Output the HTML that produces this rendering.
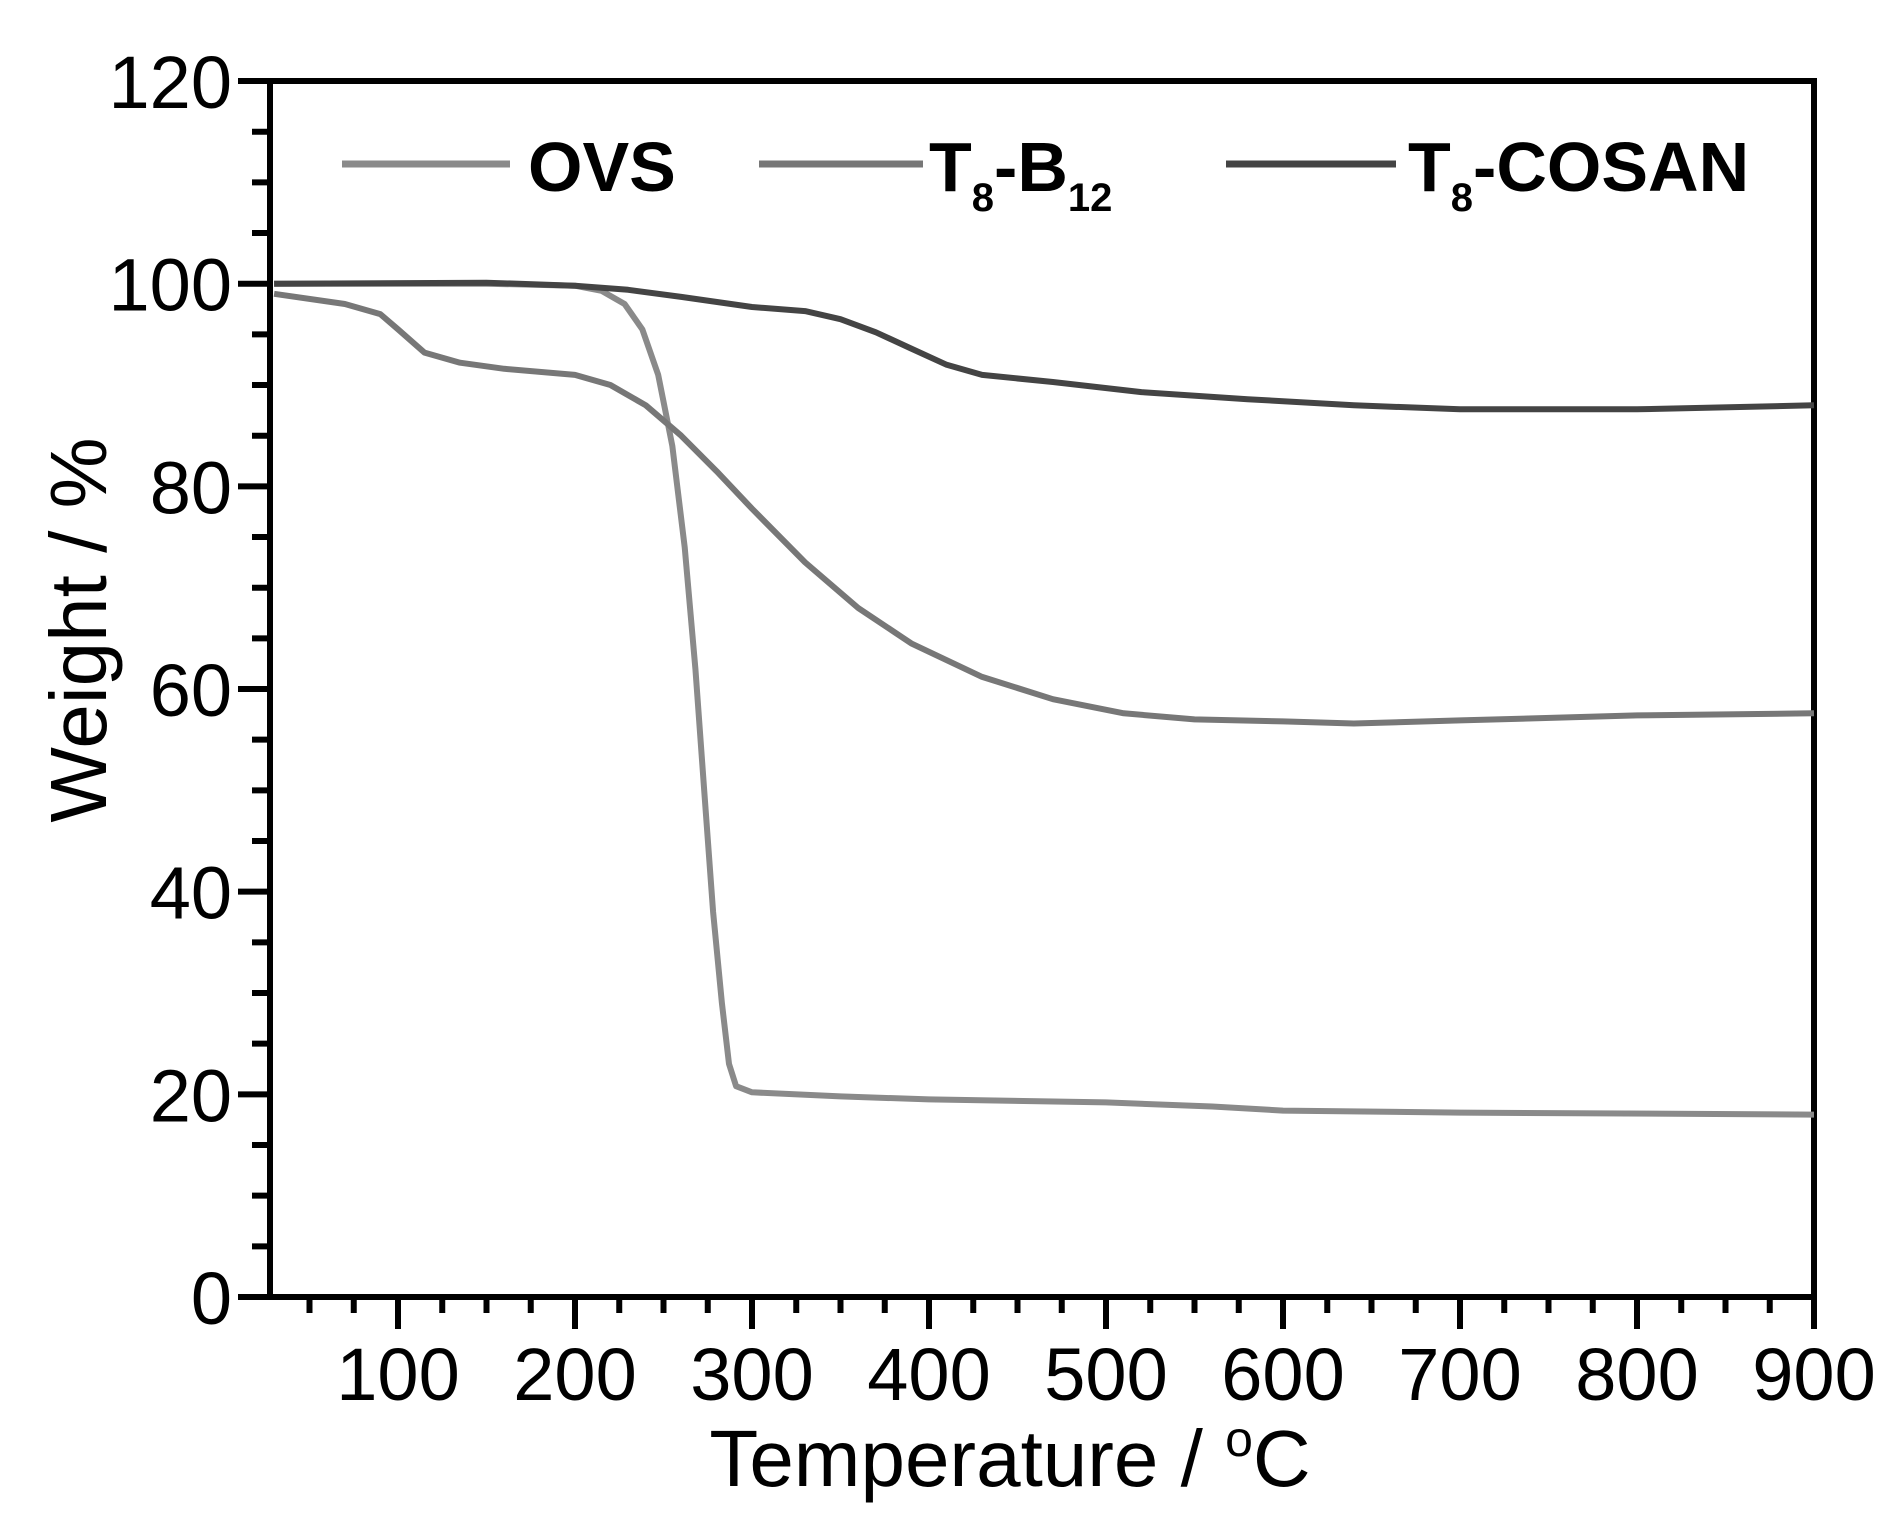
<!DOCTYPE html>
<html><head><meta charset="utf-8"><style>html,body{margin:0;padding:0;background:#fff}</style></head>
<body>
<svg id="s" width="1904" height="1529" xmlns="http://www.w3.org/2000/svg" font-family="Liberation Sans, sans-serif">
<rect width="1904" height="1529" fill="#fff"/>
<g id="g"></g>
<g font-size="74" text-anchor="end" id="yl"></g>
<g font-size="74" text-anchor="middle" id="xl"></g>
<text x="1010" y="1486" font-size="80" text-anchor="middle">Temperature / <tspan font-size="50" dy="-30">o</tspan><tspan dy="30">C</tspan></text>
<text transform="translate(106,630) rotate(-90)" font-size="80" text-anchor="middle">Weight / %</text>
<g stroke-width="7">
<line x1="342" y1="164" x2="510" y2="164" stroke="#8a8a8a"/>
<line x1="759" y1="164" x2="923" y2="164" stroke="#777"/>
<line x1="1226" y1="164" x2="1396" y2="164" stroke="#444"/>
</g>
<g font-size="70" font-weight="bold">
<text x="528" y="191">OVS</text>
<text x="929" y="191">T<tspan font-size="40" dy="20">8</tspan><tspan dy="-20">-B</tspan><tspan font-size="40" dy="20">12</tspan></text>
<text x="1408" y="191">T<tspan font-size="40" dy="20">8</tspan><tspan dy="-20">-COSAN</tspan></text>
</g>
</svg>
<script>
const L=270,R=1814,T=81,B=1297;
const X=t=>1814-(900-t)*1.77, Y=v=>1297-v*10.133;
const g=document.getElementById('g');let h='';
h+=`<rect x="${L}" y="${T}" width="${R-L}" height="${B-T}" fill="none" stroke="#000" stroke-width="6"/>`;
for(let t=50;t<=900;t+=25){const x=X(t);const maj=t%100==0;h+=`<line x1="${x}" y1="${B}" x2="${x}" y2="${B+(maj?32:16)}" stroke="#000" stroke-width="6"/>`;}
for(let v=0;v<=120;v+=5){const y=Y(v);const maj=v%20==0;h+=`<line x1="${L}" y1="${y}" x2="${L-(maj?32:18)}" y2="${y}" stroke="#000" stroke-width="6"/>`;}
const curves=[
["#8a8a8a",[[30,100],[150,100],[200,99.8],[215,99.3],[228,98],[238,95.5],[247,91],[255,84],[262,74],[268,62],[273,50],[278,38],[283,29],[287,23],[291,20.8],[300,20.2],[350,19.8],[400,19.5],[500,19.2],[560,18.8],[600,18.4],[700,18.2],[900,18]]],
["#777",[[30,99],[70,98],[90,97],[100,95.5],[115,93.2],[135,92.2],[160,91.6],[200,91],[220,90],[240,88],[260,85],[280,81.5],[300,77.8],[330,72.5],[360,68],[390,64.5],[430,61.2],[470,59],[510,57.6],[550,57],[600,56.8],[640,56.6],[700,56.9],[800,57.4],[900,57.6]]],
["#444",[[30,100],[150,100.1],[200,99.8],[230,99.4],[260,98.7],[300,97.7],[330,97.3],[350,96.5],[370,95.2],[390,93.6],[410,92],[430,91],[470,90.3],[520,89.3],[580,88.6],[640,88],[700,87.6],[800,87.6],[900,88]]]];
for(const [c,p] of curves){h+=`<polyline fill="none" stroke="${c}" stroke-width="6" stroke-linejoin="round" points="${p.map(q=>X(q[0]).toFixed(1)+','+Y(q[1]).toFixed(1)).join(' ')}"/>`;}
g.innerHTML=h;
let yl='';for(let v=0;v<=120;v+=20)yl+=`<text x="232" y="${Y(v)+27}">${v}</text>`;document.getElementById('yl').innerHTML=yl;
let xl='';for(let t=100;t<=900;t+=100)xl+=`<text x="${X(t)}" y="1400">${t}</text>`;document.getElementById('xl').innerHTML=xl;
</script>
</body></html>
